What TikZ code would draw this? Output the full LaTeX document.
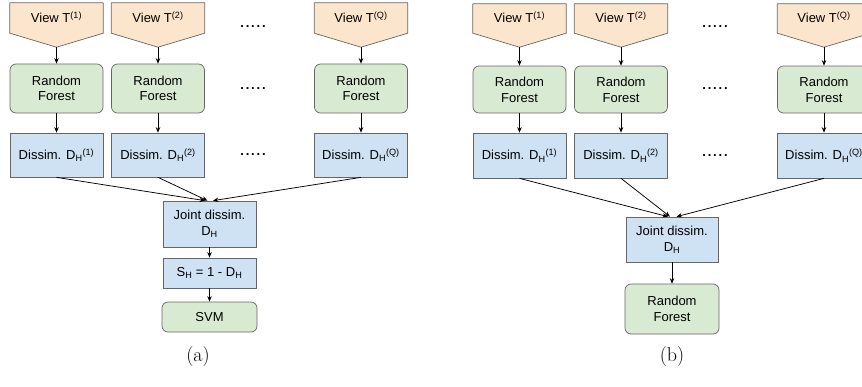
\documentclass[tikz,border=0pt]{standalone}
\usepackage{fontspec}
\setmainfont{Latin Modern Roman}
\newfontfamily\diagfont{Liberation Sans}
\usetikzlibrary{arrows.meta}
\definecolor{vfill}{HTML}{FCE5CD}
\definecolor{gfill}{HTML}{D9EAD3}
\definecolor{bfill}{HTML}{CFE2F3}
\definecolor{bord}{HTML}{666666}
\newcommand{\fivedots}{.\kern1.8pt.\kern1.8pt.\kern1.8pt.\kern1.8pt.}
\begin{document}
\begin{tikzpicture}[x=1pt,y=-1pt,
  every node/.style={font=\diagfont\fontsize{13}{15.7}\selectfont, align=center, inner sep=0pt},
  viewtop/.style={rectangle, minimum width=93, minimum height=30},
  viewshape/.style={fill=vfill, draw=bord, line width=0.7pt, line join=round},
  rfbox/.style={rectangle, rounded corners=6pt, fill=gfill, draw=bord, line width=0.7pt, minimum width=93, minimum height=49},
  dbox/.style={rectangle, fill=bfill, draw=bord, line width=0.7pt, minimum width=93, minimum height=44},
  dotsnode/.style={font=\diagfont\bfseries\fontsize{13}{15}\selectfont},
  conn/.style={-{Stealth[length=5.5pt,width=4.5pt]}, line width=0.75pt, black},
  capt/.style={font=\fontsize{20}{22}\selectfont}
]
\useasboundingbox (0,0) rectangle (862,386);

% ---------- panel (a) ----------
\foreach \nm/\cx/\lab in {a1/56.5/(1), a2/158/(2), aQ/361/(Q)} {
  \node[viewtop] (\nm v) at (\cx,18) {};
  \draw[viewshape] (\nm v.north west) -- (\nm v.north east) -- (\nm v.south east)
     -- ([yshift=-14pt]\nm v.south) -- (\nm v.south west) -- cycle;
  \node (\nm vt) at (\cx,17) {View T\textsuperscript{\lab}};
  \coordinate (\nm tip) at ([yshift=-14pt]\nm v.south);
  \node[rfbox] (\nm rf) at (\cx,88.5) {Random\\Forest};
  \node[dbox] (\nm d) at (\cx,155) {Dissim. D\textsubscript{H}\textsuperscript{\lab}};
  \draw[conn] (\nm tip) -- (\nm rf.north);
  \draw[conn] (\nm rf.south) -- (\nm d.north);
}
\node[dotsnode] (adots1) at (253,27) {\fivedots};
\node[dotsnode] (adots2) at (253,89) {\fivedots};
\node[dotsnode] (adots3) at (253,155) {\fivedots};

\node[dbox, minimum height=46] (aj) at (209.5,224) {Joint dissim.\\D\textsubscript{H}};
\node[dbox, minimum height=30] (as) at (209.5,273) {S\textsubscript{H} = 1 - D\textsubscript{H}};
\node[rfbox, minimum height=30, minimum width=95] (asvm) at (209.5,317) {SVM};
\draw[conn] (a1d.south) -- ([xshift=-4.5pt]aj.north);
\draw[conn] (a2d.south) -- ([xshift=-2pt]aj.north);
\draw[conn] (aQd.south) -- ([xshift=3.5pt]aj.north);
\draw[conn] (aj.south) -- (as.north);
\draw[conn] (as.south) -- (asvm.north);
\node[capt] (capa) at (198,357) {(a)};

% ---------- panel (b) ----------
\foreach \nm/\cx/\lab in {b1/519.5/(1), b2/621/(2), bQ/824/(Q)} {
  \node[viewtop, minimum height=29] (\nm v) at (\cx,18.5) {};
  \draw[viewshape] (\nm v.north west) -- (\nm v.north east) -- (\nm v.south east)
     -- ([yshift=-14pt]\nm v.south) -- (\nm v.south west) -- cycle;
  \node (\nm vt) at (\cx,17) {View T\textsuperscript{\lab}};
  \coordinate (\nm tip) at ([yshift=-14pt]\nm v.south);
  \node[rfbox, minimum height=47] (\nm rf) at (\cx,89.5) {Random\\Forest};
  \node[dbox, minimum height=45] (\nm d) at (\cx,155.5) {Dissim. D\textsubscript{H}\textsuperscript{\lab}};
  \draw[conn] (\nm tip) -- (\nm rf.north);
  \draw[conn] (\nm rf.south) -- (\nm d.north);
}
\node[dotsnode] (bdots1) at (715,27) {\fivedots};
\node[dotsnode] (bdots2) at (715,89) {\fivedots};
\node[dotsnode] (bdots3) at (715,156) {\fivedots};

\node[dbox, minimum height=45, minimum width=92] (bj) at (672,239.5) {Joint dissim.\\D\textsubscript{H}};
\node[rfbox, minimum height=50, minimum width=94] (brf) at (672,309) {Random\\Forest};
\draw[conn] (b1d.south) -- ([xshift=-4pt]bj.north);
\draw[conn] (b2d.south) -- ([xshift=-2pt]bj.north);
\draw[conn] (bQd.south) -- ([xshift=4.5pt]bj.north);
\draw[conn] (bj.south) -- (brf.north);
\node[capt] (capb) at (672,357) {(b)};
\end{tikzpicture}
\end{document}
